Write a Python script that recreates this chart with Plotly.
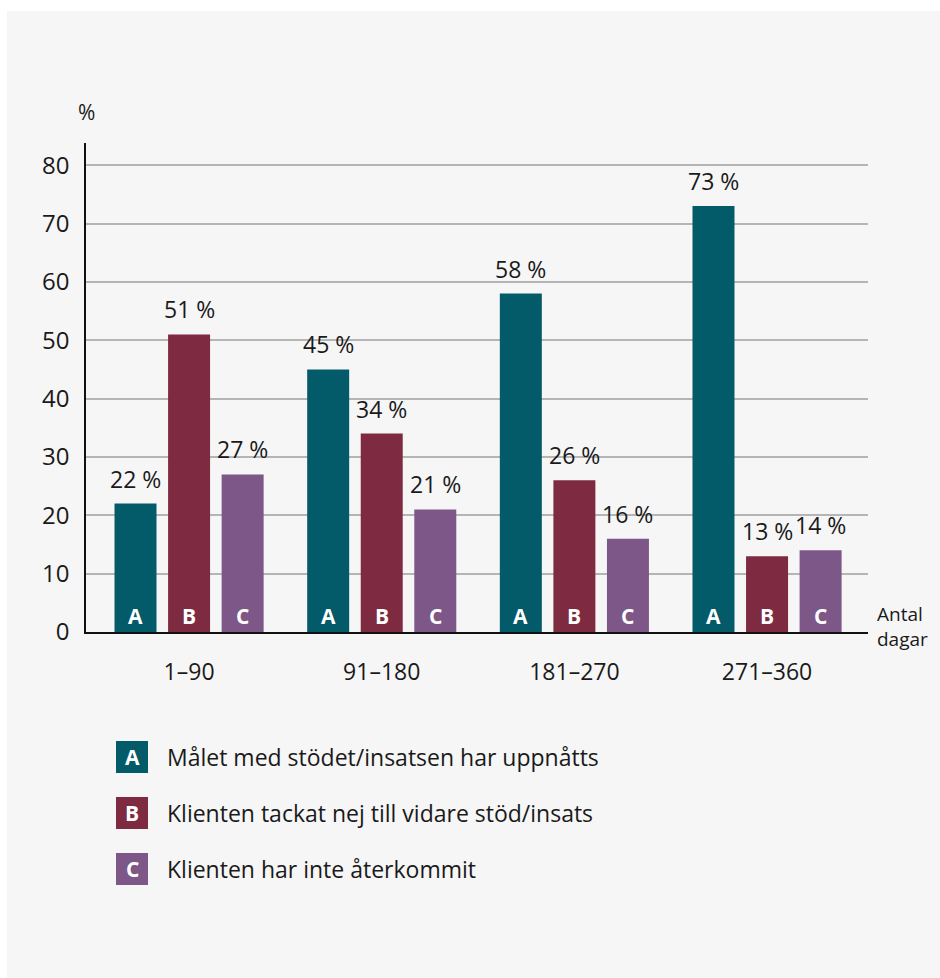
import plotly.graph_objects as go

categories = ["1–90", "91–180", "181–270", "271–360"]
series_letters = ["A", "B", "C"]
series_names = [
    "Målet med stödet/insatsen har uppnåtts",
    "Klienten tackat nej till vidare stöd/insats",
    "Klienten har inte återkommit",
]
values_A = [22, 45, 58, 73]
values_B = [51, 34, 26, 13]
values_C = [27, 21, 16, 14]
y_ticks = [0, 10, 20, 30, 40, 50, 60, 70, 80]

colors = ["#035a69", "#7e2b42", "#7c5788"]
BG = "#f6f6f6"
TXT = "#1a1a1a"
FONT = "Open Sans, Noto Sans, sans-serif"

W, H = 940, 978
PL, PR, PT, PB = 86, 868, 143, 632  # plot area in pixels
L, R, T, B = PL, W - PR, PT, H - PB
pw, ph = PR - PL, PB - PT


def px(x):
    return (x - PL) / pw


def py(y):
    return (PB - y) / ph


bargap = 0.166
bargroupgap = 0.216
slot = (1 - bargap) / 3

xs = list(range(len(categories)))
all_vals = [values_A, values_B, values_C]

fig = go.Figure()
for k, (vals, name, col) in enumerate(zip(all_vals, series_names, colors)):
    fig.add_trace(go.Bar(x=xs, y=vals, name=name, marker=dict(color=col, line=dict(width=0)),
                         showlegend=False))

annotations = []
for k, vals in enumerate(all_vals):
    for i, v in enumerate(vals):
        xc = i + (k - 1) * slot
        annotations.append(dict(x=xc, y=v, xref="x", yref="y", text=f"{v} %", showarrow=False,
                                yshift=25, yanchor="middle", font=dict(size=23, color=TXT, family=FONT)))
        annotations.append(dict(x=xc, y=0, xref="x", yref="y", text=f"<b>{series_letters[k]}</b>",
                                showarrow=False, yshift=16, yanchor="middle",
                                font=dict(size=21, color="white", family=FONT)))

annotations.append(dict(x=px(86), y=py(112), xref="paper", yref="paper", text="%", showarrow=False,
                        xanchor="center", yanchor="middle", font=dict(size=21, color=TXT, family=FONT)))
annotations.append(dict(x=px(875), y=py(626), xref="paper", yref="paper", text="Antal<br>dagar",
                        showarrow=False, xanchor="left", yanchor="middle", align="left",
                        font=dict(size=19, color=TXT, family=FONT)))

shapes = [dict(type="rect", xref="paper", yref="paper", x0=px(7), x1=px(960), y0=py(11), y1=py(1000),
               fillcolor=BG, line=dict(width=0), layer="below")]

leg_top = [741, 797, 853]
for k in range(3):
    y0 = leg_top[k]
    shapes.append(dict(type="rect", xref="paper", yref="paper", x0=px(116), x1=px(148),
                       y0=py(y0), y1=py(y0 + 32), fillcolor=colors[k], line=dict(width=0)))
    annotations.append(dict(x=px(132), y=py(y0 + 16), xref="paper", yref="paper",
                            text=f"<b>{series_letters[k]}</b>", showarrow=False, xanchor="center",
                            yanchor="middle", font=dict(size=21, color="white", family=FONT)))
    annotations.append(dict(x=px(165), y=py(y0 + 16), xref="paper", yref="paper", text=series_names[k],
                            showarrow=False, xanchor="left", yanchor="middle",
                            font=dict(size=23, color=TXT, family=FONT)))

fig.update_layout(
    width=W, height=H,
    margin=dict(l=L, r=R, t=T, b=B, pad=0),
    paper_bgcolor="white", plot_bgcolor=BG,
    barmode="group", bargap=bargap, bargroupgap=bargroupgap,
    font=dict(family=FONT, color=TXT, size=20),
    annotations=annotations, shapes=shapes,
    xaxis=dict(tickmode="array", tickvals=xs, ticktext=categories, range=[-0.535, 3.524],
               showgrid=False, zeroline=False, showline=True, linecolor="#111", linewidth=2,
               ticks="", ticklabelstandoff=18, tickfont=dict(size=23, color=TXT)),
    yaxis=dict(range=[0, 83.8], tickvals=y_ticks, showgrid=True, gridcolor="#b5b5b5", gridwidth=1.5,
               zeroline=False, showline=True, linecolor="#111", linewidth=1.5, ticks="",
               ticklabelstandoff=10, tickfont=dict(size=24, color=TXT)),
)

fig.write_html(
    "out.html",
    config={"displayModeBar": False},
    post_script="document.body.style.margin='0';document.body.style.overflow='hidden';",
)
